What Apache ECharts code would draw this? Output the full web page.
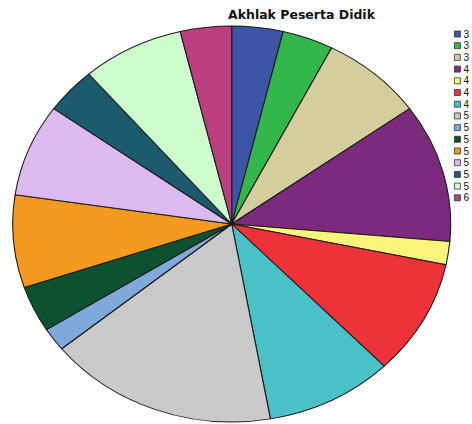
<!DOCTYPE html>
<html>
<head>
<meta charset="utf-8">
<script src="https://cdn.jsdelivr.net/npm/echarts@6/dist/echarts.min.js"></script>
<style>
  html, body { margin: 0; padding: 0; background: #ffffff; }
  #wrap { position: relative; width: 472px; height: 424px; overflow: hidden; background: #fff; }
  #pie { position: absolute; left: 0; top: 0; width: 472px; height: 424px;
         transform-origin: 231.7px 224px; transform: scaleX(1.106); }
  #over { position: absolute; left: 0; top: 0; width: 472px; height: 424px; }
</style>
</head>
<body>
<div id="wrap">
  <div id="pie"></div>
  <div id="over"></div>
</div>
<script>
const titleText = 'Akhlak Peserta Didik';
const categories = ['35', '37', '39', '41', '43', '45', '47', '50', '51', '52', '53', '54', '55', '57', '60'];
const counts = [2, 2, 4, 6, 1, 5, 5, 9, 1, 2, 4, 4, 2, 4, 2];
const colors = ['#3d55a7', '#33b64a', '#d3ce9b', '#7b2a7d', '#f8f57a', '#ee3239', '#4ac1c6',
                '#c9c9c9', '#7ea9d9', '#0c5230', '#f49a1f', '#dcbaf0', '#1c5a6d', '#cdfccd', '#bb3e7e'];

const pieData = categories.map((c, i) => ({ name: c, value: counts[i] }));

const pie = echarts.init(document.getElementById('pie'), null, { renderer: 'svg' });
pie.setOption({
  animation: false,
  backgroundColor: 'transparent',
  color: colors,
  series: [{
    type: 'pie',
    center: [231.7, 224],
    radius: 198,
    startAngle: 90,
    clockwise: true,
    label: { show: false },
    labelLine: { show: false },
    emphasis: { disabled: true },
    itemStyle: { borderColor: '#1a1a1a', borderWidth: 1 },
    data: pieData
  }]
});

const over = echarts.init(document.getElementById('over'), null, { renderer: 'svg' });
over.setOption({
  animation: false,
  color: colors,
  title: {
    text: titleText,
    left: 228,
    top: 8,
    padding: 0,
    textStyle: { fontFamily: 'DejaVu Sans', fontWeight: 'bold', fontSize: 12.5, color: '#111' }
  },
  legend: {
    orient: 'vertical',
    left: 454,
    top: 29,
    padding: 0,
    itemWidth: 6,
    itemHeight: 6,
    itemGap: 1.7,
    icon: 'rect',
    itemStyle: { borderColor: '#333', borderWidth: 0.8, opacity: 1 },
    formatter: name => name.charAt(0),
    textStyle: { fontFamily: 'Liberation Sans', fontSize: 10, lineHeight: 10, color: '#111', padding: [0, 0, 0, -2] },
    data: categories
  },
  series: [{
    type: 'pie',
    radius: 0,
    silent: true,
    label: { show: false },
    labelLine: { show: false },
    itemStyle: { opacity: 0 },
    data: pieData
  }]
});
</script>
</body>
</html>
